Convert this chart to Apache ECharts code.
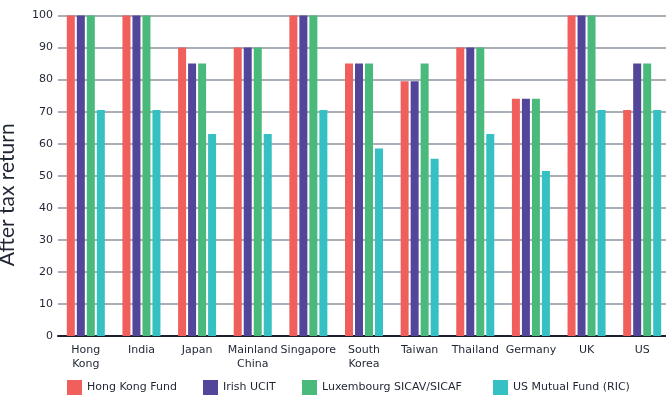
<!DOCTYPE html>
<html>
<head>
<meta charset="utf-8">
<script src="https://cdn.jsdelivr.net/npm/echarts@6/dist/echarts.min.js"></script>
<style>
  html, body { margin: 0; padding: 0; background: #ffffff; }
  #chart { width: 666px; height: 399px; }
</style>
</head>
<body>
<div id="chart"></div>
<script>
// Jurisdictions on the x axis
const categories = ['Hong\nKong', 'India', 'Japan', 'Mainland\nChina', 'Singapore',
  'South\nKorea', 'Taiwan', 'Thailand', 'Germany', 'UK', 'US'];

// After tax return per fund vehicle
const hongKongFund = [100, 100, 90, 90, 100, 85, 79.5, 90, 74, 100, 70.5];
const irishUcit    = [100, 100, 85, 90, 100, 85, 79.5, 90, 74, 100, 85];
const luxSicav     = [100, 100, 85, 90, 100, 85, 85, 90, 74, 100, 85];
const usMutualFund = [70.5, 70.5, 63, 63, 70.5, 58.5, 55.3, 63, 51.5, 70.5, 70.5];

const seriesNames = ['Hong Kong Fund', 'Irish UCIT', 'Luxembourg SICAV/SICAF', 'US Mutual Fund (RIC)'];
const seriesData = [hongKongFund, irishUcit, luxSicav, usMutualFund];
const colors = ['#f05f5c', '#52469b', '#4aba7c', '#35c0c3'];
const legendLeft = [67, 203, 302, 493];

const font = 'DejaVu Sans';
const textColor = '#1f2533';

const chart = echarts.init(document.getElementById('chart'), null, { renderer: 'canvas' });

chart.setOption({
  animation: false,
  color: colors,
  grid: { left: 58, right: -4, top: 15.5, bottom: 63, containLabel: false, outerBoundsMode: 'none' },
  legend: seriesNames.map((name, i) => ({
    data: [name],
    left: legendLeft[i],
    top: 380,
    itemWidth: 15,
    itemHeight: 15,
    itemGap: 0,
    icon: 'rect',
    selectedMode: false,
    padding: 0,
    textStyle: { fontFamily: font, fontSize: 11, color: textColor, padding: [1, 0, 0, 0] }
  })),
  xAxis: {
    type: 'category',
    data: categories,
    axisLine: { show: true, lineStyle: { color: '#1b2031', width: 2 } },
    axisTick: { show: false },
    axisLabel: {
      fontFamily: font, fontSize: 11, color: textColor,
      margin: 7, lineHeight: 14, interval: 0, hideOverlap: false
    }
  },
  yAxis: {
    type: 'value',
    min: 0, max: 100, interval: 10,
    name: 'After tax return',
    nameLocation: 'middle',
    nameGap: 40,
    nameTextStyle: { fontFamily: 'Lato', fontSize: 21, color: textColor, padding: [0, 38, 0, 0] },
    axisLine: { show: false },
    axisTick: { show: false },
    axisLabel: { fontFamily: font, fontSize: 11, color: textColor, margin: 5 },
    splitLine: { show: true, lineStyle: { color: '#8d949e', width: 1.5 } }
  },
  series: seriesData.map((d, i) => ({
    name: seriesNames[i],
    type: 'bar',
    data: d,
    barWidth: 8,
    barGap: '25%',
    itemStyle: { color: colors[i] }
  }))
});
</script>
</body>
</html>
